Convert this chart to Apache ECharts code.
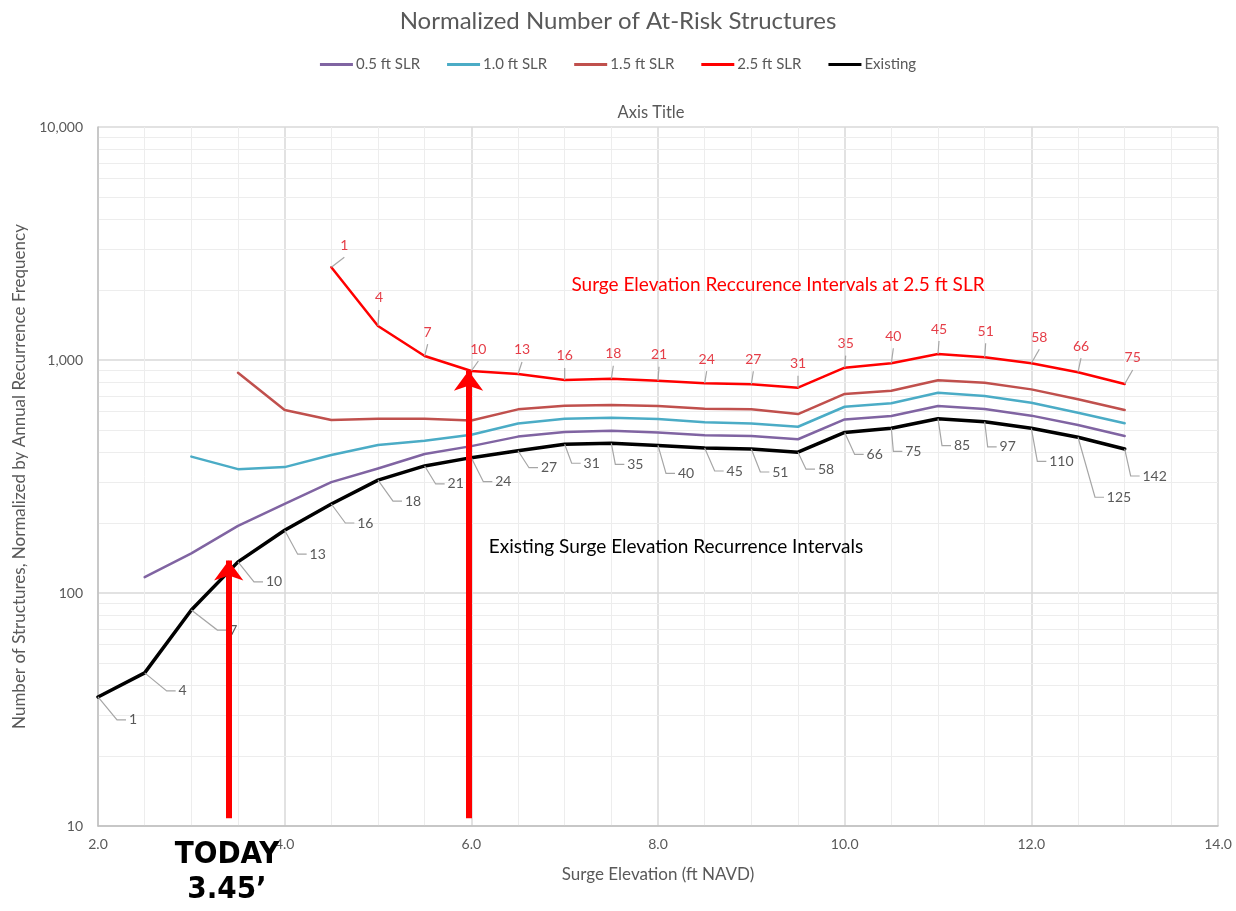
<!DOCTYPE html>
<html>
<head>
<meta charset="utf-8">
<script src="https://cdn.jsdelivr.net/npm/echarts@6/dist/echarts.min.js"></script>
<style>
html,body{margin:0;padding:0;background:#fff;}
#chart{width:1236px;height:911px;}
</style>
</head>
<body>
<div id="chart"></div>
<script>
// ---- data ----
const surgeElevation = [2.0,2.5,3.0,3.5,4.0,4.5,5.0,5.5,6.0,6.5,7.0,7.5,8.0,8.5,9.0,9.5,10.0,10.5,11.0,11.5,12.0,12.5,13.0];
const slr05 = [null,117,148,194,241,299,342,395,427,469,491,497,489,475,472,457,556,575,635,616,577,526,472];
const slr10 = [null,null,385,340,347,391,432,450,478,534,560,565,558,540,534,517,630,652,724,700,656,594,535];
const slr15 = [null,null,null,882,610,553,560,559,550,614,636,641,635,618,614,586,715,738,818,799,748,678,610];
const slr25 = [null,null,null,null,null,2500,1400,1040,897,871,821,831,815,795,787,761,927,968,1061,1027,968,886,789];
const existing = [35.8,45.4,84.5,136,186,241,305,351,381,408,435,439,430,419,415,402,489,509,560,543,509,466,415];
const existingIntervals = [1,4,7,10,13,16,18,21,24,27,31,35,40,45,51,58,66,75,85,97,110,125,142];
const slr25Intervals = [null,null,null,null,null,1,4,7,10,13,16,18,21,24,27,31,35,40,45,51,58,66,75];
const yTickLabels = ['10','100','1,000','10,000'];
const minorYValues = [20,30,40,50,60,70,80,90,200,300,400,500,600,700,800,900,2000,3000,4000,5000,6000,7000,8000,9000];
const minorXValues = [2.5,3,3.5,4.5,5,5.5,6.5,7,7.5,8.5,9,9.5,10.5,11,11.5,12.5,13,13.5];
const todayElevation = 3.4;
const arrow2Elevation = 5.97;

// ---- label placement (pixel offsets of label centre from its point) ----
const existingOffsets = [[35,23],[38,18],[42,20],[36,20],[33,24],[34,19],[35,21],[31,18],[32,24],[31,17],[27,19],[24,21],[28,28],[30,23],[29,23],[28,17],[30,22],[22,23],[24,27],[23,25],[30,33],[41,60],[30,27]];
const redOffsets = [null,null,null,null,null,[13,-22],[1,-28],[3,-24],[7,-22],[4,-24],[0,-24],[2,-25],[1,-26],[2,-24],[2,-25],[0,-24],[1,-24],[2,-27],[1,-25],[1,-26],[8,-26],[3,-26],[8,-26]];

function pairs(vals){ return surgeElevation.map((x,i)=>[x, vals[i]]); }
const FONT = 'Lato, "Open Sans", sans-serif';
const LABEL_SIZE = 14;

function lineSeries(name, vals, color, width, z){
  return {
    name, type:'line', data:pairs(vals), showSymbol:false, symbol:'none',
    lineStyle:{color, width, join:'round', cap:'round'}, itemStyle:{color}, connectNulls:false, z:z,
    emphasis:{disabled:true}, animation:false
  };
}

function labelData(vals, labels){
  const out = [];
  surgeElevation.forEach((x,i)=>{ if(vals[i]!=null && labels[i]!=null) out.push([x, vals[i], labels[i], i]); });
  return out;
}

function existingLabelItem(params, api){
  const pt = api.coord([api.value(0), api.value(1)]);
  const txt = String(api.value(2));
  const o = existingOffsets[api.value(3)];
  const cx = pt[0]+o[0], cy = pt[1]+o[1];
  const w = txt.length*8;
  const e1 = [cx - w/2 - 12, cy], e2 = [cx - w/2 - 3, cy];
  return {type:'group', children:[
    {type:'polyline', shape:{points:[pt, e1, e2]}, style:{stroke:'#A6A6A6', lineWidth:1.2, fill:null}},
    {type:'text', style:{x:cx, y:cy, text:txt, textAlign:'center', textVerticalAlign:'middle', fontFamily:FONT, fontSize:LABEL_SIZE, fill:'#595959'}}
  ]};
}
function redLabelItem(params, api){
  const pt = api.coord([api.value(0), api.value(1)]);
  const txt = String(api.value(2));
  const o = redOffsets[api.value(3)];
  const cx = pt[0]+o[0], cy = pt[1]+o[1];
  return {type:'group', children:[
    {type:'polyline', shape:{points:[pt, [cx, cy+12]]}, style:{stroke:'#A6A6A6', lineWidth:1.2, fill:null}},
    {type:'text', style:{x:cx, y:cy, text:txt, textAlign:'center', textVerticalAlign:'middle', fontFamily:FONT, fontSize:LABEL_SIZE, fill:'#E53E48'}}
  ]};
}

const chart = echarts.init(document.getElementById('chart'));
const option = {
  animation:false,
  backgroundColor:'#fff',
  title:{
    text:'Normalized Number of At-Risk Structures', left:'center', top:4,
    textStyle:{fontFamily:FONT, fontSize:24, fontWeight:'normal', color:'#595959'}
  },
  legend:{
    top:52, left:'center', itemWidth:33, itemHeight:3, itemGap:27, icon:'rect',
    data:['0.5 ft SLR','1.0 ft SLR','1.5 ft SLR','2.5 ft SLR','Existing'],
    textStyle:{fontFamily:FONT, fontSize:15, color:'#595959', padding:[0,0,0,-2]}
  },
  grid:{left:98, right:18, top:127, bottom:85},
  xAxis:{
    type:'value', min:2, max:14, interval:2,
    name:'Surge Elevation (ft NAVD)', nameLocation:'middle', nameGap:40,
    nameTextStyle:{fontFamily:FONT, fontSize:17, color:'#595959'},
    axisLine:{show:true, lineStyle:{color:'#BFBFBF', width:1.5}},
    axisTick:{show:false},
    axisLabel:{formatter:v=>v.toFixed(1), fontFamily:FONT, fontSize:14, color:'#595959', margin:11},
    splitLine:{show:true, lineStyle:{color:'#D9D9D9', width:1.5}}
  },
  yAxis:{
    type:'log', logBase:10, min:10, max:10000,
    name:'Number of Structures, Normalized by Annual Recurrence Frequency',
    nameLocation:'middle', nameGap:70, nameRotate:90,
    nameTextStyle:{fontFamily:FONT, fontSize:17, color:'#595959'},
    axisLine:{show:true, lineStyle:{color:'#BFBFBF', width:1.5}},
    axisTick:{show:false},
    axisLabel:{formatter:(v)=>{const i=Math.round(Math.log10(v))-1; return yTickLabels[i]!==undefined?yTickLabels[i]:'';}, fontFamily:FONT, fontSize:14, color:'#595959', margin:15},
    splitLine:{show:true, lineStyle:{color:'#D9D9D9', width:1.5}}
  },
  series:[
    {
      name:'grid-minor', type:'line', data:[], silent:true, z:0,
      markLine:{
        silent:true, z:0, symbol:['none','none'], label:{show:false},
        lineStyle:{color:'#EDEDED', width:1, type:'solid'},
        emphasis:{disabled:true},
        data:minorYValues.map(v=>({yAxis:v})).concat(minorXValues.map(v=>({xAxis:v})))
      }
    },
    lineSeries('0.5 ft SLR', slr05, '#8064A2', 2.5, 3),
    lineSeries('1.0 ft SLR', slr10, '#4BACC6', 2.5, 3),
    lineSeries('1.5 ft SLR', slr15, '#C0504D', 2.5, 3),
    lineSeries('2.5 ft SLR', slr25, '#FF0000', 2.5, 3),
    lineSeries('Existing', existing, '#000000', 3.5, 4),
    {
      name:'red-labels', type:'custom', data:labelData(slr25, slr25Intervals), renderItem:redLabelItem,
      encode:{x:0, y:1}, z:5, silent:true
    },
    {
      name:'existing-labels', type:'custom', data:labelData(existing, existingIntervals), renderItem:existingLabelItem,
      encode:{x:0, y:1}, z:5, silent:true
    },
    {
      name:'arrows', type:'line', data:[], z:10, silent:true,
      markLine:{
        silent:true, z:10, symbol:['none','arrow'], symbolSize:[22,20], label:{show:false},
        emphasis:{disabled:true},
        lineStyle:{color:'#FF0000', width:6, type:'solid'},
        data:[
          [{coord:[todayElevation,10.8]},{coord:[todayElevation,138]}],
          [{coord:[arrow2Elevation,10.8]},{coord:[arrow2Elevation,900]}]
        ]
      }
    }
  ],
  graphic:[
    {type:'text', x:651, y:113, z:6, style:{text:'Axis Title', textAlign:'center', textVerticalAlign:'middle', fontFamily:FONT, fontSize:16.5, fill:'#595959'}},
    {type:'text', x:778, y:285, z:6, style:{text:'Surge Elevation Reccurence Intervals at 2.5 ft SLR', textAlign:'center', textVerticalAlign:'middle', fontFamily:FONT, fontSize:19, fill:'#FF0000'}},
    {type:'text', x:676, y:547, z:6, style:{text:'Existing Surge Elevation Recurrence Intervals', textAlign:'center', textVerticalAlign:'middle', fontFamily:FONT, fontSize:19, fill:'#000000'}},
    {type:'text', x:227, y:855, z:20, style:{text:'TODAY', textAlign:'center', textVerticalAlign:'middle', fontFamily:'"Liberation Sans Narrow", "DejaVu Sans Condensed", sans-serif', fontWeight:'bold', fontSize:31, fill:'#000000'}},
    {type:'text', x:227, y:890, z:20, style:{text:'3.45\u2019', textAlign:'center', textVerticalAlign:'middle', fontFamily:'"Liberation Sans Narrow", "DejaVu Sans Condensed", sans-serif', fontWeight:'bold', fontSize:31, fill:'#000000'}}
  ]
};
chart.setOption(option);
</script>
</body>
</html>
